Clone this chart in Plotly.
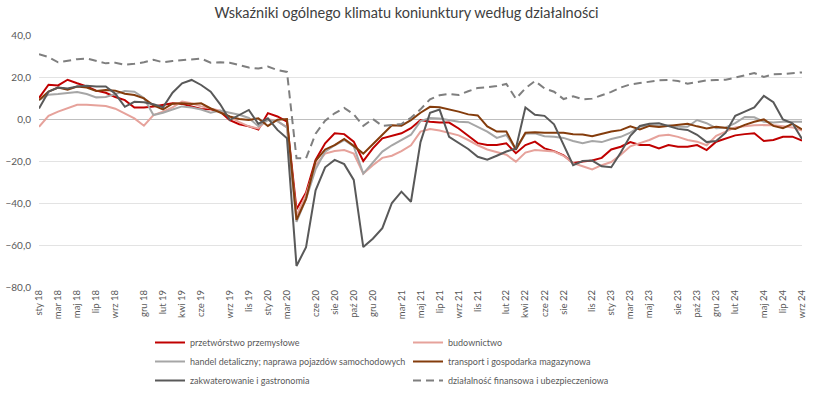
import plotly.graph_objects as go

# --- data ---------------------------------------------------------------
month_abbr = ["sty", "lut", "mar", "kwi", "maj", "cze", "lip", "sie", "wrz", "paź", "lis", "gru"]
years = ["18", "19", "20", "21", "22", "23", "24"]
months = [f"{m} {y}" for y in years for m in month_abbr][:81]  # sty 18 .. wrz 24

tick_labels = ["sty 18", "mar 18", "maj 18", "lip 18", "wrz 18", "gru 18", "lut 19", "kwi 19",
               "cze 19", "wrz 19", "lis 19", "sty 20", "mar 20", "cze 20", "sie 20", "paź 20",
               "gru 20", "mar 21", "maj 21", "lip 21", "wrz 21", "lis 21", "lut 22", "kwi 22",
               "cze 22", "sie 22", "lis 22", "sty 23", "mar 23", "maj 23", "sie 23", "paź 23",
               "gru 23", "lut 24", "maj 24", "lip 24", "wrz 24"]

przetworstwo = [10, 16.3, 16, 18.7, 17, 15.5, 13.5, 12.5, 10.5, 9, 5.5, 5.5, 6, 6.8, 7.5, 7.2, 6, 4.8,
                4.6, 3.5, -0.5, -2.5, -3.5, -5, 2.8, 1.2, -1.3,
                -43, -35, -19.5, -11.6, -6.8, -7.2, -10.8, -20, -14, -9.2, -8.1, -6.8, -4.4, -0.5,
                -1.3, -1.7, -1.7, -4.5, -8, -11.5, -12.4, -12.4, -11.6, -16.3, -12.4, -10.8, -14, -15.3,
                -17.3, -21, -20.3, -19.8, -18.5, -14.5, -13.2, -11, -12.4, -12.4, -14, -12.4, -13.2,
                -13.2, -12.4, -14.8, -10.8, -9.2, -7.8, -7.2, -6.8, -10.5, -10, -8.5, -8.4, -10.3]

budownictwo = [-3.7, 1.5, 3.5, 5, 6.8, 6.8, 6.6, 6.2, 4.9, 2.7, 0.3, -3.2, 1.9, 3.5, 5.5, 8.3, 7.5, 6,
               5, 4, 1, -1.5, -3.5, -4.5, 0, -1, -4,
               -46, -36, -22, -16.5, -15.2, -14.8, -16.5, -26, -22, -18.5, -17.5, -15.3, -12.5, -6,
               -4.8, -5.5, -6.8, -7.8, -10, -12.5, -14.5, -15.8, -17, -20.3, -16, -14.8, -15, -15.5,
               -17.5, -21, -22.5, -24, -22, -20.5, -17, -13, -11.5, -10, -8, -7.5, -8.5, -10, -10.8,
               -12.5, -8, -6, -4, -3.5, -3, -2.9, -3, -3.5, -4, -5.5]

handel = [9, 11.6, 11.9, 12.4, 12.9, 11.9, 10.3, 10.5, 12, 13.3, 13, 10, 1.9, 3, 4.5, 6, 5.5, 4.5,
          3, 4, 3, 2, 0.5, -3.5, -0.5, -1, -4,
          -49, -38, -24, -15.5, -12.5, -10, -13, -26, -20.5, -15.5, -12.5, -10, -7.5, -1, 0.5, 0.2,
          -0.5, -1.3, -1.5, -3.7, -6, -9, -7.6, -14.5, -7, -6.8, -8.2, -8.5,
          -9, -10.5, -11.5, -10.5, -11, -9.5, -8.5, -6.5, -3.7, -3, -3.3, -3, -3.7, -3.7, -0.5,
          -2, -4.4, -4, -2, 1, 0.8, -1.3, -1.7, -1.3, -1.3, -1.3]

transport = [9, 13, 15, 14, 15.5, 15, 13.3, 13.8, 13.5, 12, 11.4, 9.8, 6.5, 4.6, 7.3, 7.5, 7.2, 7.5,
             5, 3, 1.2, 0, -0.5, 0.3, -3.3, -0.3, 0,
             -48, -38, -20, -14.5, -12.4, -9.5, -12.8, -16.5, -12, -7.5, -3, -3.2, -0.5, 3, 5.8,
             5.6, 4.6, 3.5, 2.2, 1.7, -3.5, -6, -6, -14.5, -6.5, -6.3, -6.5, -6.5,
             -6.6, -7.3, -7.4, -8.2, -7, -6, -5.3, -3.5, -5, -3.3, -3.8, -3.3, -2.9, -2.3, -3.5,
             -4.5, -3.7, -4.3, -4.7, -2.8, -1.3, -0.2, -3.3, -4.4, -2.3, -4.9]

zakwaterowanie = [5, 13, 15, 14.5, 15.5, 15.8, 15.5, 15.5, 12, 5.8, 8.2, 8, 7, 5.6, 12.5, 17, 18.6,
                  16.2, 13, 7, -0.5, 1.9, 4.3, -2.3, 0.3, -5.2, -9.2,
                  -70, -61, -34, -23, -19.5, -21.5, -29, -61, -57, -52, -40, -34.6, -39.4, -11, 3,
                  4.5, -8.5, -11.5, -14.3, -18, -19.4, -17.5, -15.5, -14, 5.5, 2, 1.5, -2.5,
                  -12, -22, -20, -19.8, -22.5, -23, -16, -8, -3.3, -2.3, -2, -3.5, -4.7, -5.2, -7.5,
                  -11, -10.5, -6.5, 1.5, 3.5, 5.5, 11, 8, -0.2, -2, -9.5]

finansowa = [30.8, 29.5, 27, 27.8, 28.5, 28.8, 27.8, 26.5, 26.8, 25.8, 26.3, 27, 28.2, 27, 27.6, 28,
             28.3, 28.8, 26.8, 27, 26.8, 25.5, 24.5, 24, 25, 23.3, 22.4,
             -18.7, -18.7, -7, -0.8, 2.7, 5.3, 2.2, -3.3, 0, -3.3, -2.9, -2.4, 0.6, 4.6, 9.4, 11.3,
             11.9, 11.4, 13.2, 14.8, 15.1, 15.7, 16.7, 9.7, 14.6, 18.1, 14.6, 13,
             9.5, 10.8, 9.4, 9.7, 11.3, 12.9, 15, 16.5, 17.1, 17.8, 18.4, 18.6, 18.1, 16.8, 17.6,
             18.4, 18.6, 18.7, 19.7, 20.8, 21.9, 20, 21.3, 21.4, 21.7, 22.2]

series = [
    ("przetwórstwo przemysłowe", przetworstwo, "#c00000", None),
    ("budownictwo", budownictwo, "#e6a29b", None),
    ("handel detaliczny; naprawa pojazdów samochodowych", handel, "#a6a6a6", None),
    ("transport i gospodarka magazynowa", transport, "#843c0c", None),
    ("zakwaterowanie i gastronomia", zakwaterowanie, "#595959", None),
    ("działalność finansowa i ubezpieczeniowa", finansowa, "#7f7f7f", "8px,5px"),
]

FONT = "Lato, 'Open Sans', sans-serif"

fig = go.Figure()
for name, vals, color, dash in series:
    fig.add_trace(go.Scatter(
        x=months, y=vals, mode="lines", name=name,
        line=dict(color=color, width=2, dash=dash),
        hoverinfo="skip",
    ))

fig.update_layout(
    width=813, height=393,
    margin=dict(l=36, r=6, t=35, b=106),
    paper_bgcolor="white", plot_bgcolor="white",
    separators=", ",
    font=dict(family=FONT, color="#595959", size=10),
    title=dict(text="Wskaźniki ogólnego klimatu koniunktury według działalności",
               x=0.5, xref="container", xanchor="center",
               y=1 - 13 / 393, yref="container", yanchor="middle",
               font=dict(family=FONT, size=14.5, color="#404040")),
    xaxis=dict(type="category", range=[0, 80], showgrid=False, zeroline=False,
               tickmode="array", tickvals=tick_labels, ticktext=tick_labels,
               tickangle=-90, ticks="", tickfont=dict(size=9.5, color="#595959"),
               showline=False),
    xaxis2=dict(type="linear", range=[0, 80], overlaying="x", anchor="free",
                position=80 / 120, showticklabels=False, ticks="outside", ticklen=4,
                tickcolor="#bfbfbf", tick0=0, dtick=2, showgrid=False, zeroline=False,
                showline=False),
    yaxis=dict(range=[-80, 40], dtick=20, tickformat=".1f", gridcolor="#e3e3e3",
               gridwidth=1, zeroline=True, zerolinecolor="#bfbfbf", zerolinewidth=1,
               tickfont=dict(size=10, color="#595959"), ticks="", showline=False,
               ticklabelstandoff=7),
    legend=dict(orientation="h", xref="container", yref="container",
                x=150 / 813, y=1 - 328 / 393, xanchor="left", yanchor="top",
                entrywidth=213, entrywidthmode="pixels",
                font=dict(size=9, color="#595959"), tracegroupgap=0,
                itemwidth=30),
    showlegend=True,
)

fig.write_html("out.html",
               config={"displayModeBar": False},
               post_script="document.body.style.margin='0';document.body.style.padding='0';")
